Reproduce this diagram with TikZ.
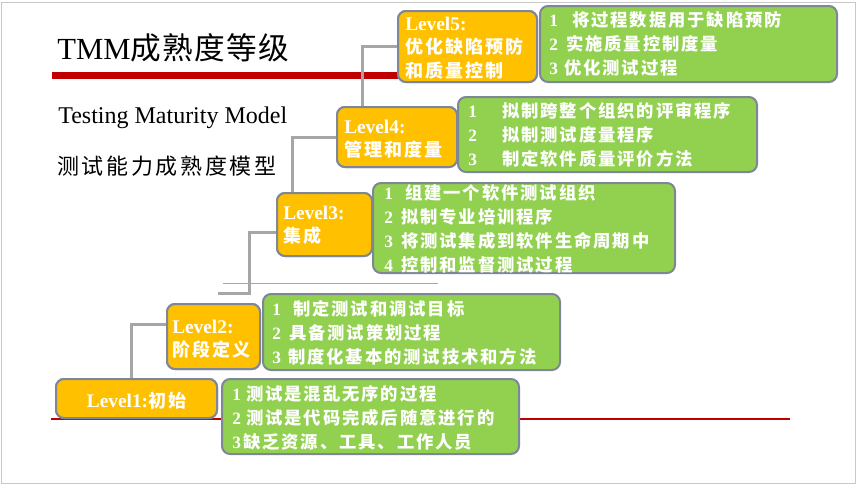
\documentclass[tikz,border=0pt]{standalone}
\usepackage{fontspec}
\setmainfont{Liberation Serif}
\newfontfamily\cjkbx[LetterSpace=11]{Noto Sans CJK SC}
\newfontfamily\cjksub[LetterSpace=12]{Noto Sans CJK SC}
\newfontfamily\cjktitle[LetterSpace=4]{Noto Sans CJK SC}
\usetikzlibrary{fit,calc}
\newdimen\pxu \pxu=0.75pt
\newcommand\zh[1]{{\fontsize{13}{18}\selectfont\cjkbx\bfseries #1}}
\newcommand\zho[1]{{\fontsize{13.5}{17.5}\selectfont\cjkbx\bfseries #1}}
\newcommand\li[3]{\makebox[#1\pxu][l]{#2}\zh{#3}}
\definecolor{orangec}{HTML}{FFC000}
\definecolor{greenc}{HTML}{92D050}
\definecolor{bordc}{HTML}{7F8796}
\definecolor{connc}{HTML}{A6A6A6}
\definecolor{redc}{HTML}{C00000}
\definecolor{thinc}{HTML}{A0A8B4}
\definecolor{framec}{HTML}{C8C8C8}
\tikzset{
 obox/.style={draw=bordc, fill=orangec, line width=1.5pt, rounded corners=6pt, inner sep=0pt},
 gbox/.style={draw=bordc, fill=greenc, line width=1.5pt, rounded corners=6pt, inner sep=0pt},
 conn/.style={draw=connc, line width=2.25pt},
 gtext/.style={text=white, anchor=west, align=left, inner sep=0pt, font=\fontsize{13}{18}\selectfont\bfseries},
 otext/.style={text=white, anchor=west, align=left, inner sep=0pt, font=\fontsize{14.5}{17.5}\selectfont\bfseries},
}
\begin{document}
\begin{tikzpicture}[x=0.75pt,y=-0.75pt]
\useasboundingbox (0,0) rectangle (858,489);
\draw[framec, line width=0.75pt] (1.5,2.5) rectangle (855.5,483.5);
% decorative lines
\fill[redc] (52,72) rectangle (400,79);
\draw[redc, line width=0.9pt] (51,419) -- (790,419);
\draw[thinc, line width=0.75pt] (223,283) -- (438,283);
% title texts
\node[anchor=base west, inner sep=0pt] (title) at (57,60) {\fontsize{23}{28}\selectfont TMM{\cjktitle 成熟度等级}};
\node[anchor=base west, inner sep=0pt] (sub1) at (58,123) {\fontsize{18}{22}\selectfont Testing Maturity Model};
\node[anchor=west, inner sep=0pt] (sub2) at (57,166) {\fontsize{16.5}{20}\selectfont\cjksub 测试能力成熟度模型};
% boxes (geometry)
\node[obox, fit={(398,11) (537,82)}] (l5) {};
\node[gbox, fit={(540,6) (837,82)}] (g5) {};
\node[obox, fit={(337,107) (457,167)}] (l4) {};
\node[gbox, fit={(458,97) (757,172)}] (g4) {};
\node[obox, fit={(277,193) (372,256)}] (l3) {};
\node[gbox, fit={(373,183) (675,273)}] (g3) {};
\node[obox, fit={(167,304) (260,369)}] (l2) {};
\node[gbox, fit={(263,294) (560,370)}] (g2) {};
\node[obox, fit={(56,379) (217,418)}] (l1) {};
\node[gbox, fit={(222,379) (519,454)}] (g1) {};
\coordinate (l3end) at (218,293);
% connectors
\draw[conn] (l5.west) -| ($(l4.north west)+(26,0)$);
\draw[conn] (l4.west) -| ($(l3.north west)+(16,0)$);
\draw[conn] ($(l3.north west)+(0,40)$) -- ++(-27,0) |- (l3end);
\draw[conn] ($(l2.north west)+(0,21)$) -| ($(l1.north west)+(76,0)$);
% redraw boxes over connector ends
\node[obox, fit={(398,11) (537,82)}] {};
\node[obox, fit={(337,107) (457,167)}] {};
\node[obox, fit={(277,193) (372,256)}] {};
\node[obox, fit={(167,304) (260,369)}] {};
\node[obox, fit={(56,379) (217,418)}] {};
% orange texts
\node[otext] (t5) at ($(l5.west)+(8,1.5)$) {Level5:\\\zho{优化缺陷预防}\\\zho{和质量控制}};
\node[otext] (t4) at ($(l4.west)+(8,2)$) {Level4:\\\zho{管理和度量}};
\node[otext] (t3) at ($(l3.west)+(7,0.5)$) {Level3:\\\zho{集成}};
\node[otext] (t2) at ($(l2.west)+(6,2.5)$) {Level2:\\\zho{阶段定义}};
\node[otext, anchor=center] (t1) at ($(l1.center)+(0,2)$) {Level1:\zho{初始}};
% green texts
\node[gtext] (s5) at ($(g5.west)+(10,0)$) {\li{23}{1}{将过程数据用于缺陷预防}\\\li{17}{2}{实施质量控制度量}\\\li{15}{3}{优化测试过程}};
\node[gtext] (s4) at ($(g4.west)+(11,0)$) {\li{34}{1}{拟制跨整个组织的评审程序}\\\li{34}{2}{拟制测试度量程序}\\\li{34}{3}{制定软件质量评价方法}};
\node[gtext] (s3) at ($(g3.west)+(12,1)$) {\li{21}{1}{组建一个软件测试组织}\\\li{17}{2}{拟制专业培训程序}\\\li{17}{3}{将测试集成到软件生命周期中}\\\li{17}{4}{控制和监督测试过程}};
\node[gtext] (s2) at ($(g2.west)+(10,1)$) {\li{21}{1}{制定测试和调试目标}\\\li{17}{2}{具备测试策划过程}\\\li{16}{3}{制度化基本的测试技术和方法}};
\node[gtext] (s1) at ($(g1.west)+(11,1)$) {\li{14}{1}{测试是混乱无序的过程}\\\li{14}{2}{测试是代码完成后随意进行的}\\\li{11}{3}{缺乏资源、工具、工作人员}};
\end{tikzpicture}
\end{document}
